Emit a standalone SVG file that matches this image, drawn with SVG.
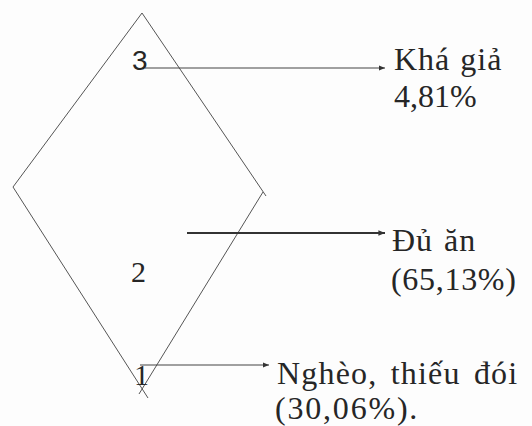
<svg xmlns="http://www.w3.org/2000/svg" width="532" height="426" viewBox="0 0 532 426">
  <defs>
    <marker id="ah" viewBox="0 0 10 10" refX="10" refY="5" markerWidth="5" markerHeight="5" markerUnits="strokeWidth" orient="auto">
      <path d="M0,1 L10,5 L0,9 Z" fill="#333"/>
    </marker>
    <marker id="ah2" viewBox="0 0 10 10" refX="10" refY="5" markerWidth="3" markerHeight="3" markerUnits="strokeWidth" orient="auto">
      <path d="M0,1 L10,5 L0,9 Z" fill="#333"/>
    </marker>
  </defs>
  <style>
    .edge { stroke: #555; stroke-width: 1; fill: none; }
    .conn { stroke: #444; stroke-width: 1.2; fill: none; }
    .lbl { font-family: "Liberation Serif", "Times New Roman", serif; font-size: 32px; fill: #262626; }
    .num { font-family: "Liberation Serif", "Times New Roman", serif; font-size: 30px; fill: #262626; }
  </style>
  <rect width="532" height="426" fill="#fdfdfd"/>
  <g id="diamond">
    <line class="edge" x1="142" y1="13" x2="13" y2="187"/>
    <line class="edge" x1="142" y1="13" x2="266" y2="196"/>
    <line class="edge" x1="13" y1="187" x2="148" y2="398"/>
    <line class="edge" x1="263" y1="192" x2="139" y2="394"/>
  </g>
  <g id="level3">
    <text x="132" y="70" font-family="Liberation Sans, Arial, sans-serif" font-size="28" fill="#262626">3</text>
  </g>
  <g id="level2">
    <text class="num" x="131" y="282">2</text>
  </g>
  <g id="level1">
    <text class="num" x="134" y="385">1</text>
  </g>
  <g id="connectors">
    <line class="conn" x1="145" y1="68" x2="385" y2="68" marker-end="url(#ah)"/>
    <line x1="187" y1="233" x2="385" y2="233" stroke="#333" stroke-width="2.2" marker-end="url(#ah2)"/>
    <line class="conn" x1="140" y1="365" x2="269" y2="365" marker-end="url(#ah)"/>
  </g>
  <g id="kha-gia">
    <text class="lbl" x="394" y="70" letter-spacing="1" word-spacing="1">Khá giả</text>
    <text class="lbl" x="394" y="107">4,81%</text>
  </g>
  <g id="du-an">
    <text class="lbl" x="392" y="251" letter-spacing="1" word-spacing="2">Đủ ăn</text>
    <text class="lbl" x="391" y="290" letter-spacing="0.7">(65,13%)</text>
  </g>
  <g id="ngheo">
    <text class="lbl" x="277" y="384" letter-spacing="1.2" word-spacing="4">Nghèo, thiếu đói</text>
    <text class="lbl" x="275" y="419" letter-spacing="1.8">(30,06%).</text>
  </g>
</svg>
